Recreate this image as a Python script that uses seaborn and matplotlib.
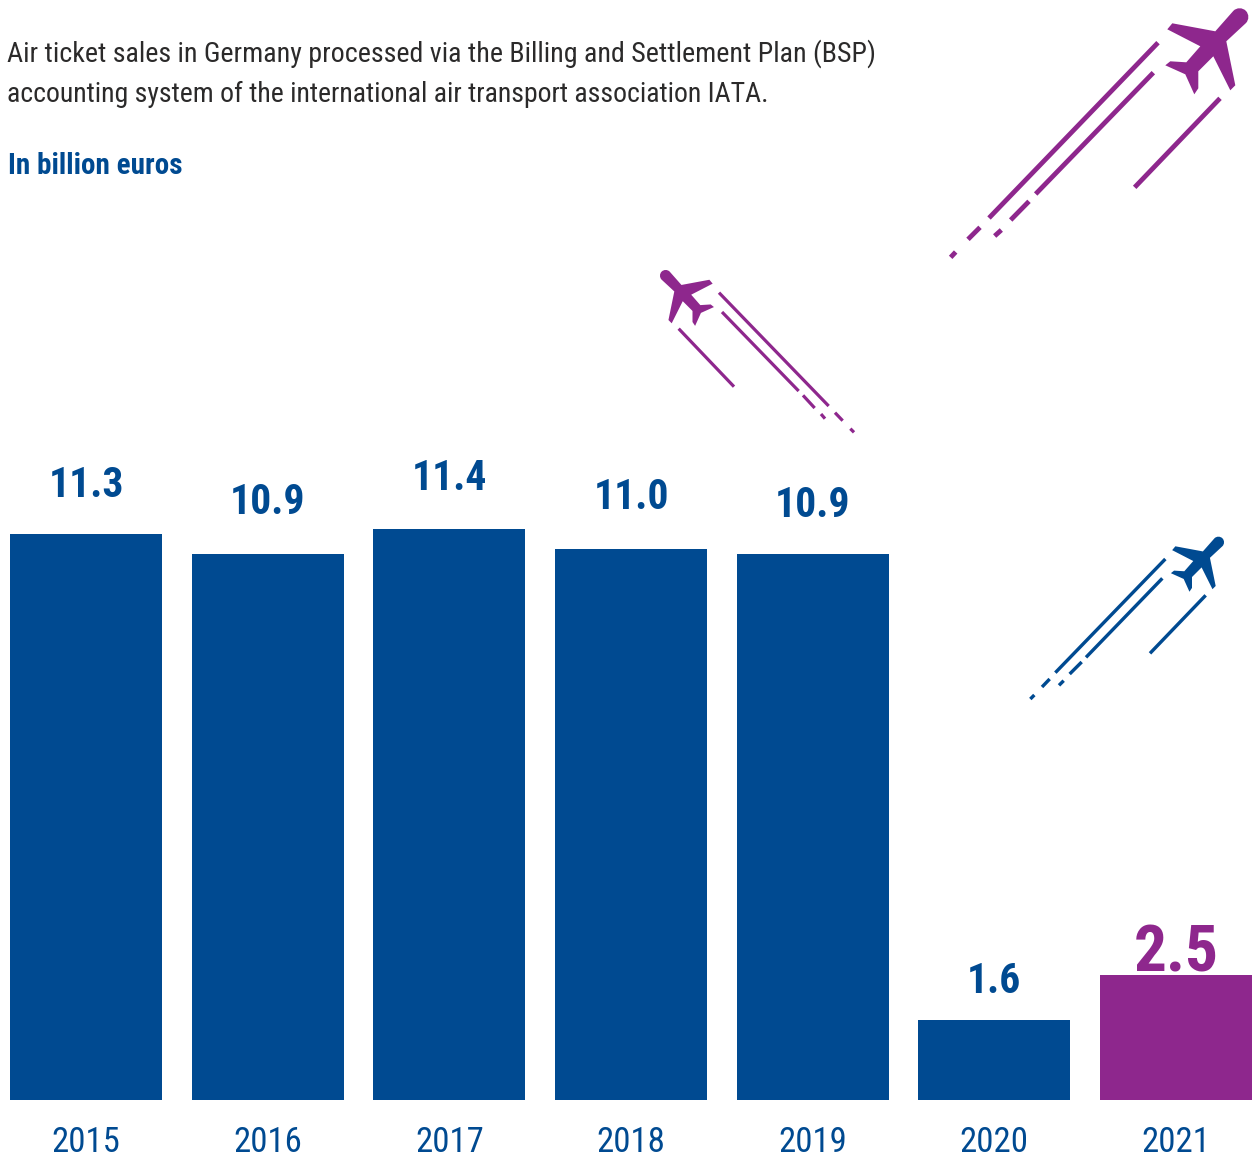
import matplotlib
matplotlib.use("Agg")
import matplotlib.pyplot as plt
from matplotlib.path import Path
from matplotlib.patches import PathPatch
from matplotlib.transforms import Affine2D
import seaborn as sns

# Data
years = ["2015", "2016", "2017", "2018", "2019", "2020", "2021"]
sales = [11.3, 10.9, 11.4, 11.0, 10.9, 1.6, 2.5]
value_labels = ["11.3", "10.9", "11.4", "11.0", "10.9", "1.6", "2.5"]
intro_lines = [
    "Air ticket sales in Germany processed via the Billing and Settlement Plan (BSP)",
    "accounting system of the international air transport association IATA.",
]
unit_label = "In billion euros"

BLUE = "#004A91"
PURPLE = "#8E278D"
INK = "#2B2A2A"
WIDTH, HEIGHT = 1256, 1160
BASE_PX = 1100
PX_PER_UNIT = 50.09
BAR_LEFT, BAR_PITCH, BAR_W = 10, 181.67, 152

bar_colors = [BLUE] * 6 + [PURPLE]
label_baselines = [497, 514, 490, 509, 517, 993, 971]
label_sizes = [30, 30, 30, 30, 30, 30, 47]

sns.set_theme(style="white")
plt.rcParams["font.family"] = ["Roboto Condensed", "Liberation Sans", "DejaVu Sans"]

fig = plt.figure(figsize=(WIDTH / 100, HEIGHT / 100), dpi=100, facecolor="white")
ax = fig.add_axes([0, (HEIGHT - BASE_PX) / HEIGHT, 1, BASE_PX / HEIGHT])
centre0 = BAR_LEFT + BAR_W / 2
sns.barplot(x=years, y=sales, hue=years, palette=bar_colors, width=BAR_W / BAR_PITCH,
            dodge=False, legend=False, saturation=1, linewidth=0, edgecolor="none", ax=ax)
ax.set_xlim(-centre0 / BAR_PITCH, (WIDTH - centre0) / BAR_PITCH)
ax.set_ylim(0, BASE_PX / PX_PER_UNIT)
ax.set_yticks([])
ax.set_xlabel("")
ax.set_ylabel("")
sns.despine(ax=ax, left=True, bottom=True)
ax.tick_params(axis="x", length=0, pad=19, labelsize=25, labelcolor=BLUE)

# Overlay in pixel coordinates for the text block and the aeroplane icons
ov = fig.add_axes([0, 0, 1, 1], facecolor="none")
ov.set_xlim(0, WIDTH)
ov.set_ylim(HEIGHT, 0)
ov.axis("off")

ov.text(7, 62, intro_lines[0], color=INK, fontsize=20.2, va="baseline")
ov.text(7, 102, intro_lines[1], color=INK, fontsize=20, va="baseline")
ov.text(8, 174, unit_label, color=BLUE, fontsize=21, fontweight="bold", va="baseline")

for i, (txt, base, size, col) in enumerate(zip(value_labels, label_baselines, label_sizes, bar_colors)):
    ov.text(centre0 + i * BAR_PITCH, base, txt, color=col, fontsize=size,
            fontweight="bold", ha="center", va="baseline")

# Aeroplane outline relative to the nose, pointing up and to the right
plane_verts = [
    (-14.9, 2.5), (-11.5, -0.9), (-5.9, -0.9), (-2.5, 2.5), (0.9, 5.9), (0.9, 11.5), (-2.5, 14.9),
    (-22, 33), (-13, 77), (-18, 82), (-35, 48), (-50, 63), (-50, 80), (-54, 86),
    (-63, 66), (-83, 57), (-78, 53), (-62, 54), (-48, 38), (-81, 21), (-76, 15),
    (-33, 23), (-14.9, 2.5),
]
plane_codes = [Path.MOVETO] + [Path.CURVE4] * 6 + [Path.LINETO] * 15 + [Path.CLOSEPOLY]
plane_path = Path(plane_verts, plane_codes)


def draw_plane(nose_x, nose_y, sx, sy, color):
    tf = Affine2D().scale(sx, sy).translate(nose_x, nose_y) + ov.transData
    ov.add_patch(PathPatch(plane_path, facecolor=color, edgecolor="none", transform=tf))


def draw_trails(origin, segments, lw_px, color):
    ox, oy = origin
    for x0, y0, x1, y1 in segments:
        ov.plot([ox + x0 / 3, ox + x1 / 3], [oy + y0 / 3, oy + y1 / 3], color=color,
                lw=lw_px * 0.72, solid_capstyle="butt")


# Contrail segments are in thirds of a pixel from each icon's local origin
draw_plane(1248.3, 8.3, 1, 1, PURPLE)
draw_trails((940, 0), [
    (654, 128, 147, 654), (120, 682, 84, 718), (47, 756, 32, 772),
    (640, 218, 287, 582), (267, 604, 212, 660), (184, 690, 164, 708),
    (840, 295, 584, 562)], 4.8, PURPLE)

draw_plane(660, 270, -0.65, 0.65, PURPLE)
draw_trails((650, 260), [
    (207, 98, 536, 438), (555, 458, 578, 482), (601, 506, 612, 517),
    (216, 156, 446, 393), (459, 406, 494, 444), (513, 462, 525, 476),
    (86, 206, 252, 380)], 3.2, PURPLE)

draw_plane(1224, 536.7, 0.64, 0.64, BLUE)
draw_trails((1020, 530), [
    (436, 87, 106, 428), (89, 447, 66, 471), (43, 495, 31, 507),
    (427, 145, 198, 382), (185, 396, 149, 432), (131, 452, 117, 466),
    (557, 196, 390, 370)], 3.4, BLUE)

fig.savefig("out.png", dpi=100, facecolor="white")
